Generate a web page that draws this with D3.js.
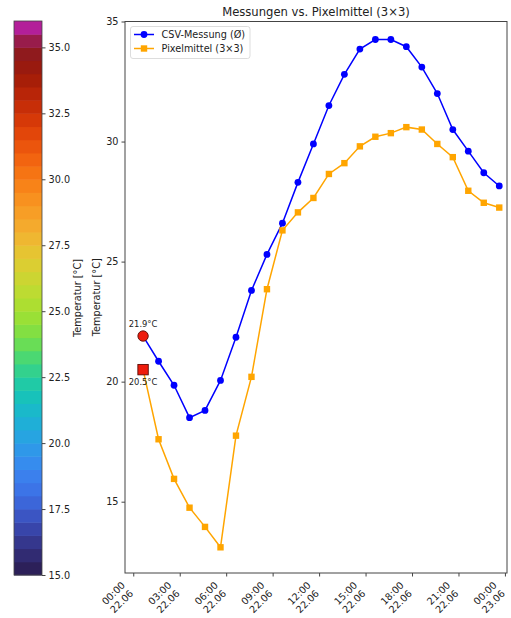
<!DOCTYPE html>
<html>
<head>
<meta charset="utf-8">
<script src="https://cdn.jsdelivr.net/npm/d3@7"></script>
<style>
  body { margin: 0; background: #fff; }
  text { font-family: "DejaVu Sans", sans-serif; fill: #222; }
</style>
</head>
<body>
<svg id="chart"></svg>
<script>
// hourly readings, 22.06
const times = [
  "00:38", "01:38", "02:38", "03:38", "04:38", "05:38", "06:38", "07:38",
  "08:38", "09:38", "10:38", "11:38", "12:38", "13:38", "14:38", "15:38",
  "16:38", "17:38", "18:38", "19:38", "20:38", "21:38", "22:38", "23:38"
];
const csvMessung = [
  21.9, 20.85, 19.85, 18.5, 18.8, 20.05, 21.85, 23.8,
  25.3, 26.6, 28.3, 29.9, 31.5, 32.8, 33.85, 34.25,
  34.25, 33.95, 33.1, 32.0, 30.5, 29.6, 28.7, 28.15
];
const pixelMittel = [
  20.5, 17.6, 15.95, 14.75, 13.95, 13.1, 17.75, 20.2,
  23.85, 26.3, 27.05, 27.65, 28.65, 29.1, 29.8, 30.2,
  30.35, 30.6, 30.5, 29.9, 29.35, 27.95, 27.45, 27.25
];
const xTickLabels = [
  "00:00\n22.06", "03:00\n22.06", "06:00\n22.06", "09:00\n22.06", "12:00\n22.06",
  "15:00\n22.06", "18:00\n22.06", "21:00\n22.06", "00:00\n23.06"
];
const yTicks = [15, 20, 25, 30, 35];
const cbTicks = [15.0, 17.5, 20.0, 22.5, 25.0, 27.5, 30.0, 32.5, 35.0];
// colour stops of the temperature colormap (value -> colour)
const cmapStops = [15, 16, 17, 18, 19, 20, 21, 22, 23, 24, 25, 26, 27, 28, 29, 30, 31, 32, 33, 34, 35, 36];
const cmapColors = [
  "#2a1a4c", "#33307f", "#3a4cb8", "#3d6ee4", "#3a86f0", "#2b9ee6", "#1bb4d2", "#17c6b2",
  "#3cd580", "#78df48", "#a5e030", "#c5d932", "#e2ca32", "#f3b030", "#f89822", "#f87c14",
  "#f05c0e", "#dd3e08", "#c02808", "#9e1a08", "#8a1a24", "#c020c0"
];

const width = 511;
const height = 618;
const svg = d3.select("#chart").attr("width", width).attr("height", height);

const axisColor = "#444";
const tickFont = 9.7;

// ---------- colorbar ----------
const cb = { x0: 14, x1: 42, top: 21, bottom: 575 };
const cbScale = d3.scaleLinear().domain([15, 36]).range([cb.bottom, cb.top]);
const cmap = d3.scaleLinear().domain(cmapStops).range(cmapColors).interpolate(d3.interpolateRgb);
const bands = d3.range(15, 36, 0.5);

const cbG = svg.append("g");
cbG.selectAll("rect.band")
  .data(bands)
  .join("rect")
  .attr("class", "band")
  .attr("x", cb.x0)
  .attr("width", cb.x1 - cb.x0)
  .attr("y", (d) => cbScale(d + 0.5))
  .attr("height", (d) => cbScale(d) - cbScale(d + 0.5) + 0.5)
  .attr("fill", (d) => cmap(d + 0.25));
cbG.append("rect")
  .attr("x", cb.x0).attr("y", cb.top)
  .attr("width", cb.x1 - cb.x0).attr("height", cb.bottom - cb.top)
  .attr("fill", "none").attr("stroke", axisColor).attr("stroke-width", 0.8);

const cbAxis = cbG.append("g")
  .attr("transform", `translate(${cb.x1},0)`)
  .call(d3.axisRight(cbScale).tickValues(cbTicks).tickFormat(d3.format(".1f")).tickSize(3.5).tickPadding(3));
cbAxis.select(".domain").remove();
cbAxis.selectAll("line").attr("stroke", axisColor);
cbAxis.selectAll("text").attr("font-size", tickFont).style("font-family", "DejaVu Sans").attr("fill", "#222");

svg.append("text")
  .attr("transform", `translate(81,${(cb.top + cb.bottom) / 2}) rotate(-90)`)
  .attr("text-anchor", "middle")
  .attr("font-size", tickFont)
  .text("Temperatur [°C]");

// ---------- main axes ----------
const plot = { left: 125, right: 507, top: 21.5, bottom: 573 };
const parse = d3.timeParse("%Y-%m-%d %H:%M");
const dates = times.map((t) => parse("2024-06-22 " + t));
const x = d3.scaleTime()
  .domain([parse("2024-06-21 23:28"), parse("2024-06-23 00:08")])
  .range([plot.left, plot.right]);
const y = d3.scaleLinear().domain([12.03, 35]).range([plot.bottom, plot.top]);

const xTicks = d3.range(xTickLabels.length).map((i) => d3.timeHour.offset(parse("2024-06-22 00:00"), i * 3));

const xAxis = svg.append("g")
  .attr("transform", `translate(0,${plot.bottom})`)
  .call(d3.axisBottom(x).tickValues(xTicks).tickFormat("").tickSize(3.5));
xAxis.select(".domain").remove();
xAxis.selectAll("line").attr("stroke", axisColor);

// rotated two-line tick labels (right aligned, like ha="right", rotation=45)
const lineH = tickFont * 1.2;
const blockH = lineH * 2;
const xl = svg.append("g")
  .selectAll("text")
  .data(xTicks)
  .join("text")
  .attr("transform", (d) => `translate(${x(d) - blockH * Math.SQRT1_2 + 3},${plot.bottom + 7}) rotate(-45)`)
  .attr("text-anchor", "end")
  .attr("font-size", tickFont);
xl.each(function (d, i) {
  const parts = xTickLabels[i].split("\n");
  d3.select(this).selectAll("tspan")
    .data(parts)
    .join("tspan")
    .attr("x", 0)
    .attr("y", (p, j) => tickFont * 0.85 + j * lineH)
    .text((p) => p);
});

const yAxis = svg.append("g")
  .attr("transform", `translate(${plot.left},0)`)
  .call(d3.axisLeft(y).tickValues(yTicks).tickFormat(d3.format("d")).tickSize(3.5).tickPadding(3));
yAxis.select(".domain").remove();
yAxis.selectAll("line").attr("stroke", axisColor);
yAxis.selectAll("text").attr("font-size", tickFont).style("font-family", "DejaVu Sans").attr("fill", "#222");

svg.append("rect")
  .attr("x", plot.left).attr("y", plot.top)
  .attr("width", plot.right - plot.left).attr("height", plot.bottom - plot.top)
  .attr("fill", "none").attr("stroke", axisColor).attr("stroke-width", 1);

svg.append("text")
  .attr("transform", `translate(100,${(plot.top + plot.bottom) / 2}) rotate(-90)`)
  .attr("text-anchor", "middle")
  .attr("font-size", tickFont)
  .text("Temperatur [°C]");

svg.append("text")
  .attr("x", (plot.left + plot.right) / 2)
  .attr("y", 16)
  .attr("text-anchor", "middle")
  .attr("font-size", 11.6)
  .text("Messungen vs. Pixelmittel (3×3)");

// ---------- series ----------
const series = [
  { name: "CSV-Messung (Ø)", values: csvMessung, color: "#0000ff", marker: "circle" },
  { name: "Pixelmittel (3×3)", values: pixelMittel, color: "#ffa500", marker: "square" }
];
const line = d3.line().x((d) => x(d.t)).y((d) => y(d.v));

function drawMarker(g, kind, cx, cy, color, size) {
  if (kind === "circle") {
    g.append("circle").attr("cx", cx).attr("cy", cy).attr("r", size / 2).attr("fill", color);
  } else {
    g.append("rect").attr("x", cx - size / 2).attr("y", cy - size / 2)
      .attr("width", size).attr("height", size).attr("fill", color);
  }
}

series.forEach((s) => {
  const pts = s.values.map((v, i) => ({ t: dates[i], v: v }));
  svg.append("path")
    .datum(pts)
    .attr("d", line)
    .attr("fill", "none")
    .attr("stroke", s.color)
    .attr("stroke-width", 1.5);
  const g = svg.append("g");
  pts.forEach((p) => drawMarker(g, s.marker, x(p.t), y(p.v), s.color, s.marker === "circle" ? 6.8 : 6.4));
});

// highlighted first values
const first = { t: dates[0], a: csvMessung[0], b: pixelMittel[0] };
svg.append("circle")
  .attr("cx", x(first.t)).attr("cy", y(first.a)).attr("r", 5.2)
  .attr("fill", "#ee1c0c").attr("stroke", "#5a0c06").attr("stroke-width", 0.9);
svg.append("rect")
  .attr("x", x(first.t) - 5.2).attr("y", y(first.b) - 5.2)
  .attr("width", 10.4).attr("height", 10.4)
  .attr("fill", "#ee1c0c").attr("stroke", "#5a0c06").attr("stroke-width", 0.9);
svg.append("text")
  .attr("x", x(first.t)).attr("y", y(first.a) - 9)
  .attr("text-anchor", "middle").attr("font-size", 8.4)
  .text(`${first.a.toFixed(1)}°C`);
svg.append("text")
  .attr("x", x(first.t)).attr("y", y(first.b) + 15.5)
  .attr("text-anchor", "middle").attr("font-size", 8.4)
  .text(`${first.b.toFixed(1)}°C`);

// ---------- legend ----------
const lg = svg.append("g").attr("transform", "translate(130.5,26.5)");
lg.append("rect")
  .attr("width", 119.5).attr("height", 32)
  .attr("rx", 2.5)
  .attr("fill", "#fff").attr("fill-opacity", 0.8)
  .attr("stroke", "#d4d4d4").attr("stroke-width", 0.8);
series.forEach((s, i) => {
  const cy = 8 + i * 14;
  lg.append("line")
    .attr("x1", 3.5).attr("x2", 23.5).attr("y1", cy).attr("y2", cy)
    .attr("stroke", s.color).attr("stroke-width", 1.5);
  drawMarker(lg, s.marker, 13.5, cy, s.color, s.marker === "circle" ? 6.8 : 6.4);
  lg.append("text")
    .attr("x", 31).attr("y", cy + 3.5)
    .attr("font-size", tickFont)
    .text(s.name);
});
</script>
</body>
</html>
